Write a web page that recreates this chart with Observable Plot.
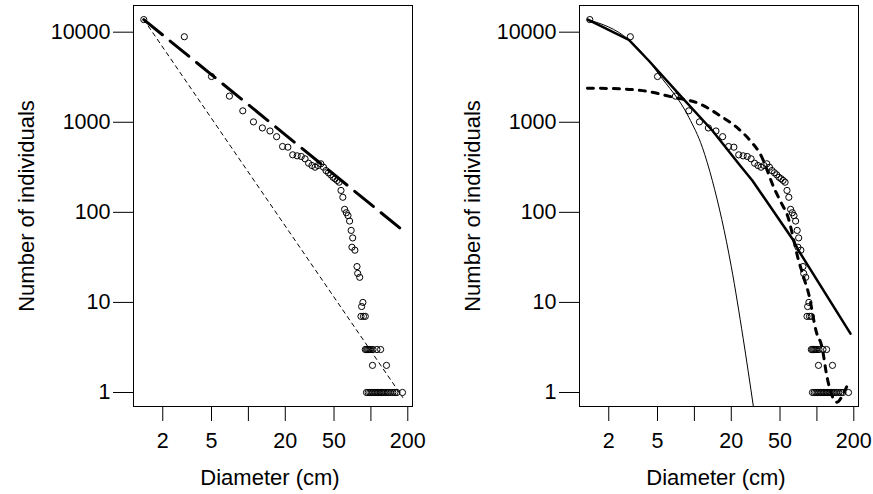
<!DOCTYPE html>
<html><head><meta charset="utf-8">
<script src="https://cdn.jsdelivr.net/npm/d3@7"></script>
<script src="https://cdn.jsdelivr.net/npm/@observablehq/plot@0.6"></script>
<style>
body{margin:0;background:#fff;}
#wrap{position:relative;width:873px;height:494px;overflow:hidden;}
#wrap svg{position:absolute;top:0;}
</style></head><body><div id="wrap"></div>
<script>
// Observed size classes (diameter, cm) and number of individuals
const diameter = [1.4, 3, 5, 7, 9, 11, 13, 15, 17, 19, 21, 23, 25, 27, 29, 31, 33, 35, 37, 39, 41, 43, 45, 47, 49, 51, 53, 55,
  57, 59, 61, 63, 65, 67, 69, 71, 70, 74, 77, 78, 81, 84, 86, 83, 87, 90,
  90, 92, 94, 96, 98, 100, 104, 112, 120, 103, 134,
  92, 95, 98, 101, 104, 107, 110, 113, 116, 119, 122, 125, 128, 132, 136, 140, 145, 151, 157, 163, 181];
const count = [13800, 8900, 3220, 1950, 1340, 1010, 865, 800, 692, 538, 529, 435, 424, 417, 393, 351, 331, 317, 331, 346, 317, 291, 275, 261, 245, 236, 226, 216,
  175, 147, 108, 99, 92, 80, 63, 52, 41, 38, 25, 21, 19, 9, 10, 7, 7, 7,
  3, 3, 3, 3, 3, 3, 3, 3, 3, 2, 2,
  1, 1, 1, 1, 1, 1, 1, 1, 1, 1, 1, 1, 1, 1, 1, 1, 1, 1, 1, 1, 1];

// Left panel fitted lines (straight power laws: end points)
const powerD = [1.4, 182];
const powerN = [13800, 63];
const steepD = [1.4, 182];
const steepN = [13800, 0.88];

// Right panel fitted curves
const fitD = [1.35, 2.92, 4.23, 7.45, 14, 23.6, 29.7, 64.4, 70.8, 188];
const fitN = [13800, 8220, 4850, 2070, 810, 331, 226, 48.7, 37.7, 4.5];
const expD = [1.35, 2.92, 4.23, 5.1, 9.0, 11.6, 14, 20, 25, 30.3];
const expN = [13800, 8220, 4850, 3445, 1138, 529, 226, 25, 4, 0.7];
const humpD = [1.34, 2.45, 4.04, 6.69, 11.1, 16.1, 22.1, 28.5, 34.4, 45.6, 51.7, 56.9, 70.9, 77.9, 85.6, 98.9, 110, 121, 146, 166, 182];
const humpN = [2390, 2350, 2213, 1897, 1600, 1188, 881, 627, 446, 175, 124, 96, 29.2, 19, 12.5, 4.7, 3.2, 1.48, 0.78, 1.0, 1.3];

const xTicks = [2, 5, 10, 20, 50, 100, 200];
const xTickLabels = ["2", "5", "", "20", "50", "", "200"];
const yTicks = [1, 10, 100, 1000, 10000];
const yTickLabels = ["1", "10", "100", "1000", "10000"];

const pts = diameter.map((d, i) => ({d, n: count[i]}));
const toRows = (D, N) => D.map((d, i) => ({d, n: N[i]}));
const xLab = xTicks.map((d, i) => ({d, label: xTickLabels[i]}));

function panel(width, marginRight, lines) {
  return Plot.plot({
    width, height: 494,
    marginLeft: 133, marginRight, marginTop: 5, marginBottom: 88,
    style: {fontFamily: "'Liberation Sans', Arial, Helvetica, sans-serif", fontSize: "21.5px", color: "black", background: "white"},
    x: {type: "log", domain: [1.154, 218.5]},
    y: {type: "log", domain: [0.699, 19780]},
    marks: [
      Plot.frame({stroke: "black", strokeWidth: 1}),
      Plot.axisY(yTicks, {tickSize: 20, tickPadding: 3, tickFormat: d => yTickLabels[yTicks.indexOf(d)], label: null, strokeWidth: 1}),
      Plot.axisX(xTicks, {tickSize: 15, tickFormat: () => "", label: null, strokeWidth: 1}),
      Plot.text(xLab, {x: "d", text: "label", frameAnchor: "bottom", dy: 41, lineAnchor: "bottom", fontSize: 21.5}),
      ...lines,
      Plot.dot(pts, {x: "d", y: "n", r: 3.1, stroke: "black", strokeWidth: 1, fill: "none"}),
      Plot.text(["Number of individuals"], {frameAnchor: "left", rotate: -90, dx: -99.7, textAnchor: "middle", lineAnchor: "bottom", fontSize: 22}),
      Plot.text(["Diameter (cm)"], {frameAnchor: "bottom", dy: 78, dx: -3, textAnchor: "middle", lineAnchor: "bottom", fontSize: 22})
    ]
  });
}

const left = panel(446, 34, [
  Plot.line(toRows(steepD, steepN), {x: "d", y: "n", stroke: "black", strokeWidth: 1, strokeDasharray: "4,4"}),
  Plot.line(toRows(powerD, powerN), {x: "d", y: "n", stroke: "black", strokeWidth: 3, strokeDasharray: "24,10"})
]);
const right = panel(427, 15, [
  Plot.line(toRows(expD, expN), {x: "d", y: "n", stroke: "black", strokeWidth: 1, curve: "monotone-x", clip: true}),
  Plot.line(toRows(humpD, humpN), {x: "d", y: "n", stroke: "black", strokeWidth: 3, strokeDasharray: "6,7", curve: "monotone-x", clip: true}),
  Plot.line(toRows(fitD, fitN), {x: "d", y: "n", stroke: "black", strokeWidth: 2.5, clip: true})
]);
left.style.left = "0px";
right.style.left = "446px";
document.getElementById("wrap").append(left, right);
</script></body></html>
